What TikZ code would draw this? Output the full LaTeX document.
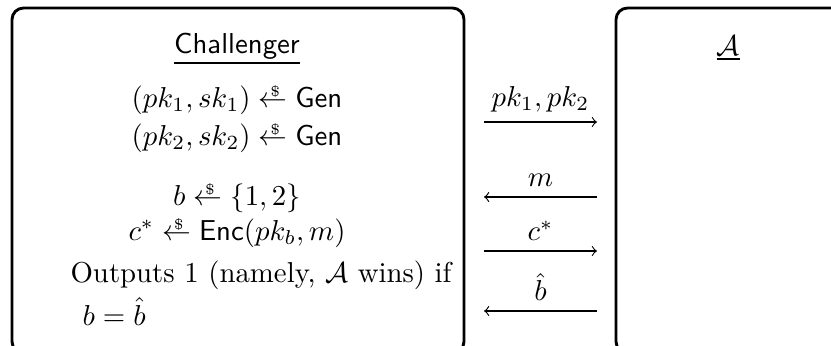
\documentclass[tikz,border=0pt]{standalone}
\usepackage{amsmath}
\newcommand{\rnd}{\mathrel{\ooalign{$\leftarrow$\cr\hfil\kern1.5pt\raisebox{3.8pt}{$\scriptscriptstyle\$$}\hfil\cr}}}
\begin{document}
\begin{tikzpicture}[x=0.3472pt, y=-0.3472pt,
    party/.style={line width=1pt, rounded corners=4pt},
    msg/.style={->, line width=.4pt}]
    \clip (0,0) rectangle (831,345);
    \draw[party] (12,8) rectangle (464,353);
    \draw[party] (616,8) rectangle (880,353);

    \node[anchor=base] (chal) at (237,53) {\underline{\textsf{Challenger}}};
    \node[anchor=base] (adv) at (728,55) {\underline{$\mathcal{A}$}};
    
    \node[anchor=base] (gen1) at (237,107) {$(pk_1, sk_1) \rnd \mathsf{Gen}$};
    \node[anchor=base] (gen2) at (237,145) {$(pk_2, sk_2) \rnd \mathsf{Gen}$};
    \node[anchor=base] (bit) at (237,205) {$b \rnd \{1,2\}$};
    \node[anchor=base] (enc) at (237,240) {$c^* \rnd \mathsf{Enc}(pk_b, m)$};
    \node[anchor=base west, inner sep=0pt] (out) at (70,282) {Outputs 1 (namely, $\mathcal{A}$ wins) if};
    \node[anchor=base west, inner sep=0pt] (win) at (82,325) {$b = \hat{b}$};

    % messages
    \coordinate (m1l) at (484,122); \coordinate (m1r) at (597,122);
    \coordinate (m2l) at (484,197); \coordinate (m2r) at (597,197);
    \coordinate (m3l) at (484,251); \coordinate (m3r) at (597,251);
    \coordinate (m4l) at (484,311); \coordinate (m4r) at (597,311);
    \draw[msg] (m1l) -- (m1r) node[midway, above] {$pk_1, pk_2$};
    \draw[msg] (m2r) -- (m2l) node[midway, above] {$m$};
    \draw[msg] (m3l) -- (m3r) node[midway, above] {$c^*$};
    \draw[msg] (m4r) -- (m4l) node[midway, above] {$\hat{b}$};
\end{tikzpicture}
\end{document}
